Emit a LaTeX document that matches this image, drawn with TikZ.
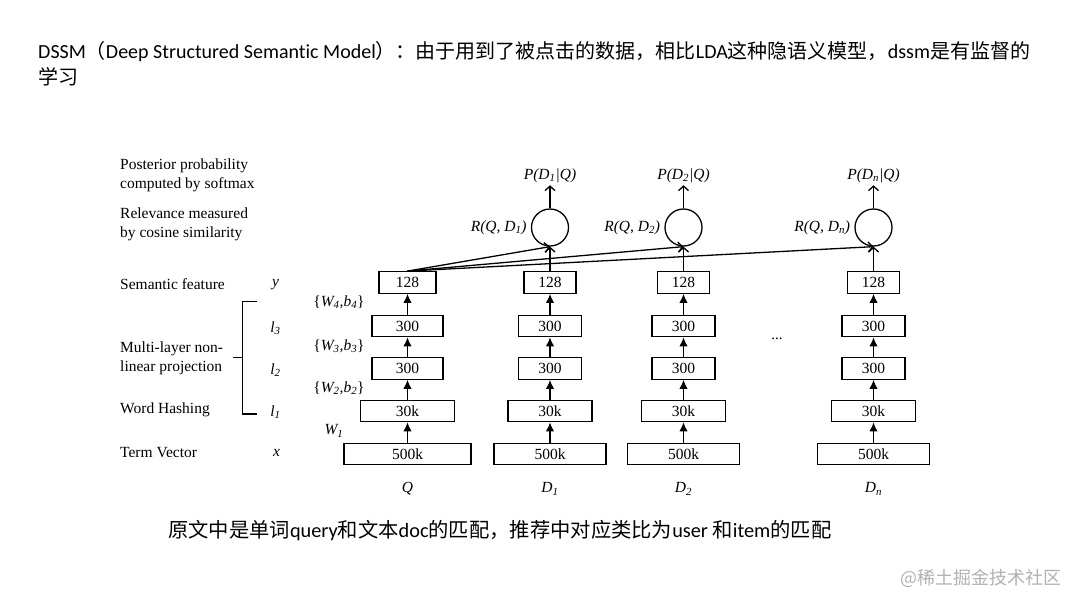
\documentclass[tikz,border=0pt]{standalone}
\usepackage{fontspec}
\setmainfont{Liberation Serif}
\newfontfamily\cjkf{Noto Sans CJK SC}
\newfontfamily\latf[Ligatures=NoCommon]{Carlito}
\usetikzlibrary{arrows.meta}
\newcommand{\dfont}{\fontsize{15.5}{19}\selectfont}
\newcommand{\sbs}[1]{\textsubscript{#1}}
\tikzset{
  box/.style={draw, line width=1.3pt, minimum height=21.5pt, inner sep=0pt, font=\dfont},
  fa/.style={-{Latex[length=9pt,width=8.5pt]}, line width=1.3pt},
  oa/.style={-{Straight Barb[length=4.5pt,width=10pt]}, line width=1.3pt},
  lbl/.style={anchor=west, align=left, inner sep=0pt, font=\dfont},
  ml/.style={inner sep=0pt, font=\dfont\itshape},
  circ/.style={draw, circle, line width=1.3pt, minimum size=37pt, inner sep=0pt},
}
\begin{document}
\begin{tikzpicture}[x=1pt,y=-1pt]
\useasboundingbox (0,0) rectangle (1080,608);
\fill[white] (0,0) rectangle (1080,608);

% title
\node[anchor=west, inner sep=0pt, font=\fontsize{20}{24}\selectfont] (t1) at (38,52)
  {\latf DSSM{\cjkf （}Deep Structured Semantic Model{\cjkf ）：由于用到了被点击的数据，相比}LDA{\cjkf 这种隐语义模型，}dssm{\cjkf 是有监督的}};
\node[anchor=west, inner sep=0pt, font=\fontsize{20}{24}\selectfont] (t2) at (38,77) {\cjkf 学习};

% left labels
\node[lbl] (lp) at (120,175) {Posterior probability\\computed by softmax};
\node[lbl] (lr) at (120,224) {Relevance measured\\by cosine similarity};
\node[lbl] (ls) at (120,284) {Semantic feature};
\node[lbl] (lm) at (120,358.5) {Multi-layer non-\\linear projection};
\node[lbl] (lw) at (120,410) {Word Hashing};
\node[lbl] (lt) at (120,453) {Term Vector};

% math symbols
\node[ml] (sy) at (275.5,285) {y};
\node[ml] (s3) at (275.5,328) {l\sbs{3}};
\node[ml] (s2) at (275.5,370) {l\sbs{2}};
\node[ml] (s1) at (275.5,412) {l\sbs{1}};
\node[ml] (sx) at (276.5,453) {x};

% bracket
\draw[line width=1.3pt] (256.7,301.7) -| (242.7,414) -- (256.7,414);
\draw[line width=1.3pt] (232.7,357.7) -- (242.7,357.7);

% weights
\node[inner sep=0pt, font=\dfont] (w4) at (339,302) {\{{\itshape W\sbs{4},b\sbs{4}}\}};
\node[inner sep=0pt, font=\dfont] (w3) at (339,346) {\{{\itshape W\sbs{3},b\sbs{3}}\}};
\node[inner sep=0pt, font=\dfont] (w2) at (339,388) {\{{\itshape W\sbs{2},b\sbs{2}}\}};
\node[ml] (w1) at (334,431) {W\sbs{1}};

% columns
\foreach \c/\x/\wA/\wB/\wC/\wE/\lab in {q/407.5/127/94/71/57/Q, d1/550/112/84/63/52/D\sbs{1}, d2/683.5/112/84/63/52/D\sbs{2}, dn/873.5/112/84/63/52/D\sbs{n}}{
  \node[box, minimum width=\wA pt] (\c-a) at (\x,454) {500k};
  \node[box, minimum width=\wB pt] (\c-b) at (\x,411) {30k};
  \node[box, minimum width=\wC pt] (\c-c) at (\x,368.5) {300};
  \node[box, minimum width=\wC pt] (\c-d) at (\x,326) {300};
  \node[box, minimum width=\wE pt] (\c-e) at (\x,282.5) {128};
  \draw[fa] (\c-a) -- (\c-b);
  \draw[fa] (\c-b) -- (\c-c);
  \draw[fa] (\c-c) -- (\c-d);
  \draw[fa] (\c-d) -- (\c-e);
  \node[ml] (\c-l) at (\x,489) {\lab};
}

% relevance circles
\foreach \c/\x/\s in {d1/550/1, d2/683.5/2, dn/873.5/n}{
  \node[circ] (r\c) at (\x,227.5) {};
  \node[ml] (p\c) at (\x,176) {P(D\sbs{\s}|Q)};
  \node[ml, anchor=east] (rl\c) at ([xshift=-4pt]r\c.west) {R(Q, D\sbs{\s})};
  \draw[oa] (\c-e) -- (r\c.south);
  \draw[oa] (r\c) -- ([yshift=-2pt]p\c.south);
  \draw[oa] (q-e.north) -- (r\c.south);
}

\node[inner sep=0pt, font=\fontsize{15}{17}\selectfont] (dots) at (777,339) {...};

% caption
\node[anchor=west, inner sep=0pt, font=\fontsize{20.3}{23}\selectfont] (cap) at (168,531)
  {\cjkf 原文中是单词{\latf query}和文本{\latf doc}的匹配，推荐中对应类比为{\latf user} 和{\latf item}的匹配};

% watermark
\node[anchor=west, inner sep=0pt, text=black!30, font=\fontsize{18}{20}\selectfont] (wm) at (900,578) {\cjkf @稀土掘金技术社区};
\end{tikzpicture}
\end{document}
